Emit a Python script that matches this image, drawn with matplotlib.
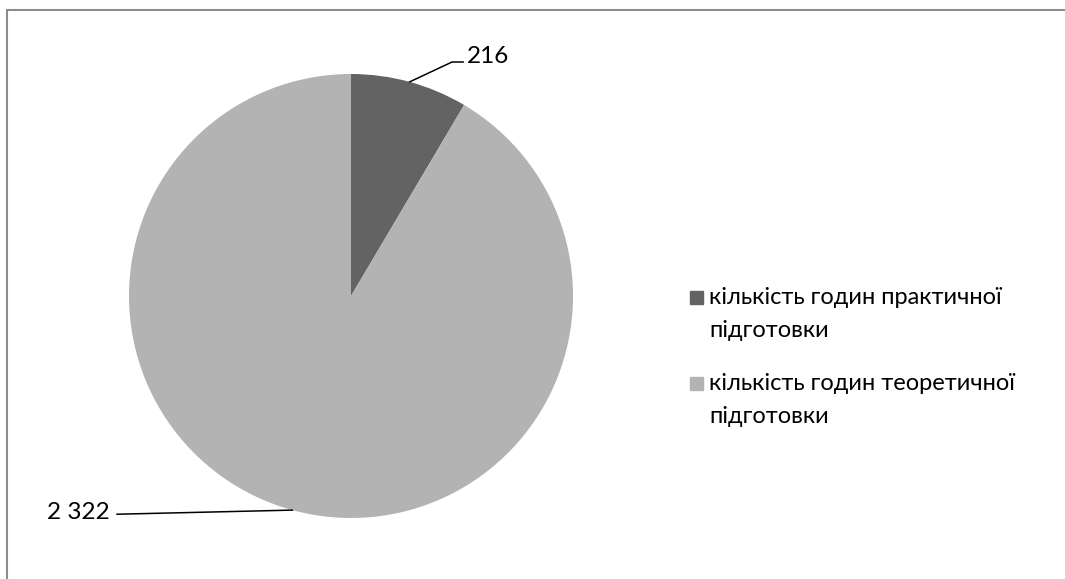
import matplotlib.pyplot as plt
import matplotlib.patches as mpatches
import numpy as np

labels = ['кількість годин практичної\nпідготовки',
          'кількість годин теоретичної\nпідготовки']
values = [216, 2322]
value_text = ['216', '2 322']
colors = ['#636363', '#b3b3b3']

plt.rcParams['font.family'] = ['Lato', 'DejaVu Sans']

W, H = 1065, 579
fig = plt.figure(figsize=(W / 100, H / 100), dpi=100)

# outer frame (cut off on right and bottom like the reference)
fig.patches.append(mpatches.Rectangle((7 / W, -0.1), 1.2, 1 - 10 / H + 0.1,
                                      transform=fig.transFigure, fill=False,
                                      edgecolor='#8c8c8c', linewidth=1.5))

# pie: centre (351, 296) px, radius 222 px
cx, cy, r = 351, 296, 222
ax = fig.add_axes([(cx - r) / W, (H - cy - r) / H, 2 * r / W, 2 * r / H])
wedges, _ = ax.pie(values, colors=colors, startangle=90, counterclock=False,
                   radius=1, wedgeprops=dict(linewidth=0))
ax.set_xlim(-1, 1)
ax.set_ylim(-1, 1)
ax.axis('off')

# leader lines + labels
elbows = [[(0.455, 1.054), (0.505, 1.054)], [(-1.054, -0.983)]]
text_pos = [(0.52, 1.077, 'left'), (-1.085, -0.975, 'right')]
for w, pts, (tx, ty, ha), txt in zip(wedges, elbows, text_pos, value_text):
    mid = np.deg2rad((w.theta1 + w.theta2) / 2)
    xs = [np.cos(mid)] + [p[0] for p in pts]
    ys = [np.sin(mid)] + [p[1] for p in pts]
    ax.plot(xs, ys, color='black', linewidth=1.1, clip_on=False)
    ax.text(tx, ty, txt, ha=ha, va='center', fontsize=17.5, clip_on=False)

# legend drawn by hand so the swatch lines up with the first text line
leg_y = [298, 384]
for y, lab, c in zip(leg_y, labels, colors):
    fig.patches.append(mpatches.Rectangle((690 / W, 1 - (y + 6) / H), 13 / W, 13 / H,
                                          transform=fig.transFigure, color=c))
    fig.text(709 / W, 1 - (y - 11) / H, lab, ha='left', va='top',
             fontsize=17, linespacing=1.72)

fig.savefig('out.png', dpi=100)
